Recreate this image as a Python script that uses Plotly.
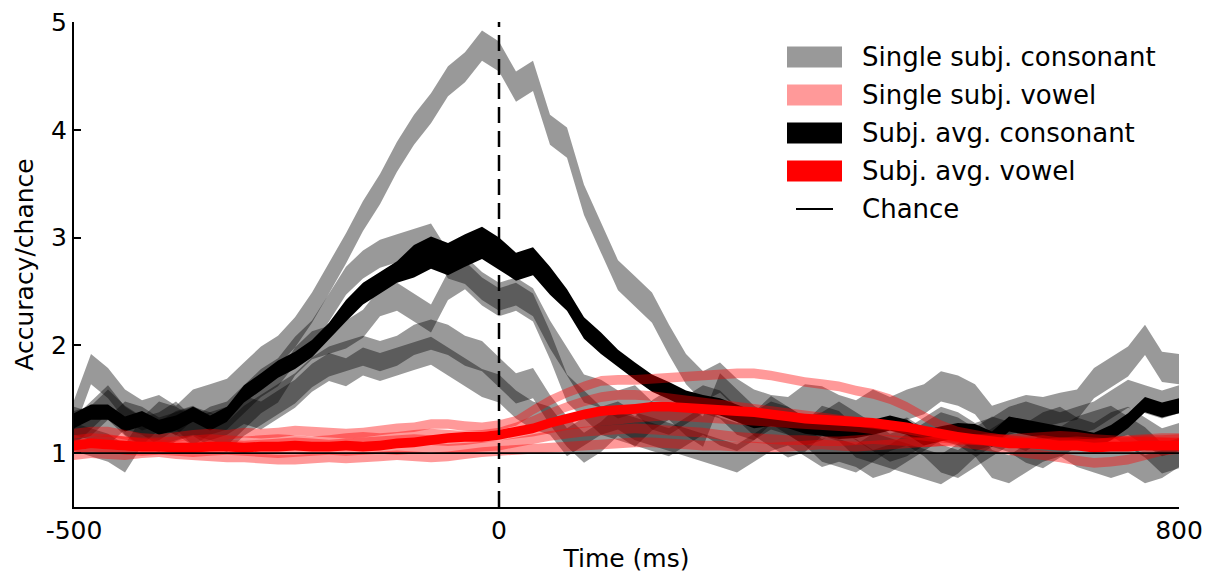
import plotly.graph_objects as go

# ---------------- data ----------------
time_ms = list(range(-500, 801, 20))

# single-subject consonant decoding (band centres)
cons_s1 = [1.35,1.78,1.65,1.45,1.35,1.4,1.3,1.45,1.5,1.55,1.7,1.85,1.95,2.12,2.35,2.62,2.9,3.2,3.45,3.75,
           4.0,4.2,4.45,4.58,4.78,4.68,4.4,4.5,4.0,3.88,3.35,3.0,2.65,2.5,2.35,2.05,1.78,1.62,1.7,1.55,
           1.45,1.4,1.38,1.5,1.48,1.4,1.35,1.45,1.38,1.45,1.5,1.62,1.58,1.5,1.3,1.35,1.4,1.38,1.42,1.45,
           1.65,1.75,1.85,2.05,1.8,1.78]
cons_s2 = [1.2,1.35,1.5,1.3,1.2,1.25,1.35,1.2,1.3,1.35,1.5,1.65,1.75,1.95,2.1,2.35,2.6,2.75,2.85,2.9,
           2.95,3.0,2.75,2.7,2.55,2.45,2.5,2.4,2.1,1.85,1.6,1.55,1.45,1.5,1.35,1.3,1.4,1.5,1.45,1.3,
           1.25,1.35,1.3,1.2,1.25,1.35,1.25,1.15,1.05,1.1,1.2,1.3,1.25,1.15,1.2,1.3,1.35,1.3,1.25,1.3,
           1.35,1.45,1.55,1.5,1.45,1.5]
cons_s3 = [1.3,1.25,1.2,1.35,1.3,1.2,1.25,1.3,1.25,1.2,1.35,1.5,1.6,1.85,2.0,2.05,2.1,2.2,2.4,2.45,
           2.35,2.25,2.55,2.65,2.5,2.4,2.45,2.35,2.0,1.6,1.45,1.3,1.25,1.2,1.15,1.1,1.2,1.3,1.2,1.15,
           1.25,1.4,1.3,1.2,1.05,1.0,0.95,1.05,1.15,1.2,1.1,0.95,0.9,1.0,1.1,1.2,1.15,1.25,1.3,1.2,
           1.15,1.25,1.3,1.2,1.1,1.15]
cons_s4 = [1.25,1.3,1.45,1.3,1.2,1.15,1.25,1.3,1.2,1.15,1.3,1.4,1.5,1.6,1.75,1.85,1.9,1.95,1.9,1.95,
           2.05,2.1,2.05,1.95,1.9,1.75,1.6,1.65,1.4,1.2,1.05,1.15,1.3,1.2,1.35,1.45,1.3,1.2,1.6,1.45,
           1.3,1.2,1.1,1.15,1.3,1.25,1.1,1.05,1.0,0.95,0.9,0.85,0.95,1.1,1.2,1.15,1.05,1.0,1.1,1.2,
           1.25,1.3,1.2,1.1,0.95,1.0]
cons_s5 = [1.15,1.1,1.05,0.95,1.2,1.35,1.3,1.2,1.25,1.3,1.4,1.35,1.45,1.55,1.7,1.8,1.75,1.85,1.8,1.85,
           1.9,1.95,1.85,1.75,1.65,1.6,1.45,1.35,1.3,1.1,1.2,1.3,1.35,1.25,1.2,1.15,1.1,1.05,1.0,0.95,
           1.05,1.15,1.2,1.1,1.0,1.05,1.0,0.9,0.95,1.05,1.15,1.25,1.2,1.1,0.9,0.85,0.95,1.05,1.1,1.0,
           0.95,0.9,0.95,0.85,0.9,1.0]
cons_single_sem = [0.14, 0.13, 0.13, 0.14, 0.13]

# single-subject vowel decoding (band centres)
vow_s1 = [1.18,1.2,1.2,1.17,1.14,1.13,1.15,1.17,1.18,1.17,1.19,1.18,1.19,1.21,1.20,1.19,1.18,1.19,1.21,1.23,
          1.24,1.27,1.27,1.25,1.24,1.26,1.30,1.40,1.49,1.56,1.62,1.67,1.68,1.68,1.69,1.70,1.71,1.72,1.73,1.74,
          1.74,1.72,1.69,1.66,1.64,1.62,1.58,1.55,1.50,1.43,1.34,1.26,1.20,1.17,1.14,1.12,1.11,1.12,1.10,1.09,
          1.08,1.10,1.12,1.13,1.14,1.14]
vow_s2 = [1.12,1.14,1.13,1.11,1.10,1.10,1.11,1.12,1.13,1.12,1.11,1.12,1.13,1.12,1.11,1.12,1.14,1.15,1.14,1.15,
          1.17,1.18,1.17,1.16,1.17,1.19,1.24,1.30,1.37,1.43,1.48,1.52,1.54,1.54,1.53,1.51,1.49,1.47,1.45,1.43,
          1.41,1.39,1.37,1.35,1.33,1.31,1.29,1.27,1.25,1.22,1.19,1.16,1.14,1.12,1.11,1.10,1.09,1.09,1.08,1.08,
          1.09,1.10,1.11,1.12,1.12,1.13]
vow_s3 = [1.04,1.06,1.05,1.03,1.02,1.03,1.02,1.01,1.02,1.03,1.02,1.01,1.00,1.01,1.02,1.03,1.02,1.03,1.04,1.03,
          1.04,1.05,1.04,1.05,1.06,1.07,1.10,1.13,1.16,1.18,1.20,1.21,1.22,1.23,1.22,1.21,1.20,1.19,1.17,1.15,
          1.14,1.13,1.12,1.12,1.11,1.11,1.12,1.13,1.12,1.11,1.10,1.11,1.12,1.13,1.14,1.12,1.10,1.09,1.10,1.11,
          1.10,1.09,1.10,1.11,1.10,1.10]
vow_s4 = [0.98,1.00,0.99,0.98,1.00,1.01,0.99,0.98,0.97,0.96,0.96,0.95,0.94,0.94,0.95,0.96,0.95,0.96,0.97,0.98,
          0.97,0.96,0.97,0.99,1.01,1.02,1.03,1.04,1.05,1.06,1.07,1.08,1.09,1.10,1.10,1.09,1.08,1.07,1.07,1.06,
          1.06,1.05,1.06,1.07,1.08,1.07,1.06,1.07,1.08,1.09,1.10,1.11,1.10,1.08,1.06,1.03,1.00,0.98,0.96,0.93,
          0.91,0.92,0.94,0.98,1.02,1.04]
vow_s5 = [1.08,1.10,1.12,1.11,1.09,1.08,1.07,1.08,1.09,1.08,1.07,1.08,1.09,1.10,1.09,1.08,1.09,1.10,1.11,1.12,
          1.13,1.12,1.11,1.12,1.14,1.16,1.18,1.20,1.23,1.26,1.28,1.30,1.31,1.33,1.34,1.35,1.34,1.33,1.32,1.31,
          1.30,1.29,1.28,1.27,1.26,1.25,1.24,1.22,1.20,1.18,1.16,1.14,1.13,1.12,1.12,1.13,1.14,1.15,1.16,1.15,
          1.13,1.12,1.11,1.10,1.10,1.09]
vow_single_sem = [0.045, 0.045, 0.045, 0.045, 0.045]

# subject-average curves
avg_cons = [1.30,1.38,1.38,1.27,1.32,1.24,1.28,1.36,1.28,1.36,1.55,1.66,1.78,1.86,1.97,2.13,2.32,2.48,2.58,2.68,
            2.78,2.86,2.80,2.88,2.95,2.85,2.73,2.78,2.60,2.42,2.16,2.02,1.88,1.76,1.65,1.58,1.50,1.46,1.43,1.37,
            1.31,1.32,1.30,1.25,1.23,1.20,1.21,1.24,1.28,1.24,1.14,1.18,1.21,1.20,1.13,1.27,1.24,1.21,1.18,1.15,
            1.12,1.19,1.30,1.45,1.40,1.44]
avg_cons_sem = [0.07,0.07,0.07,0.07,0.07,0.07,0.07,0.07,0.07,0.07,0.08,0.08,0.08,0.08,0.08,0.08,0.10,0.10,0.10,0.10,
                0.15,0.15,0.15,0.15,0.15,0.15,0.13,0.13,0.13,0.10,0.10,0.10,0.08,0.08,0.08,0.08,0.08,0.08,0.08,0.08,
                0.08,0.07,0.07,0.07,0.07,0.07,0.07,0.07,0.07,0.07,0.07,0.07,0.07,0.07,0.07,0.07,0.07,0.07,0.07,0.07,
                0.07,0.07,0.07,0.07,0.07,0.07]
avg_vow = [1.07,1.09,1.08,1.07,1.06,1.06,1.05,1.05,1.06,1.06,1.05,1.06,1.06,1.07,1.06,1.06,1.07,1.06,1.07,1.09,
           1.10,1.12,1.14,1.15,1.15,1.17,1.20,1.23,1.28,1.32,1.36,1.39,1.40,1.41,1.43,1.43,1.42,1.41,1.40,1.39,
           1.38,1.36,1.34,1.32,1.31,1.30,1.29,1.28,1.26,1.24,1.21,1.18,1.15,1.13,1.11,1.09,1.09,1.08,1.07,1.07,
           1.05,1.06,1.06,1.07,1.07,1.07]
avg_vow_sem = [0.045]

chance_level = 1.0
onset_ms = 0

x_ticks = [-500, 0, 800]
y_ticks = [1, 2, 3, 4, 5]
x_range = [-500, 800]
y_range = [0.5, 5]

legend_labels = ["Single subj. consonant", "Single subj. vowel",
                 "Subj. avg. consonant", "Subj. avg. vowel", "Chance"]

# ---------------- styling ----------------
FONT = "DejaVu Sans"
GRAY_A = "rgba(0,0,0,0.4)"
PINK_A = "rgba(255,0,0,0.4)"
BLACK = "#000000"
RED = "#ff0000"

fig = go.Figure()


def add_band(center, sem, color):
    if len(sem) == 1:
        sem = sem * len(center)
    upper = [c + s for c, s in zip(center, sem)]
    lower = [c - s for c, s in zip(center, sem)]
    fig.add_trace(go.Scatter(
        x=time_ms + time_ms[::-1],
        y=upper + lower[::-1],
        fill="toself", fillcolor=color,
        mode="lines", line=dict(width=0, color=color),
        hoverinfo="skip", showlegend=False))


for series, s in zip([cons_s1, cons_s2, cons_s3, cons_s4, cons_s5], cons_single_sem):
    add_band(series, [s], GRAY_A)
add_band(avg_cons, avg_cons_sem, BLACK)
for series, s in zip([vow_s1, vow_s2, vow_s3, vow_s4, vow_s5], vow_single_sem):
    add_band(series, [s], PINK_A)
add_band(avg_vow, avg_vow_sem, RED)

# chance line
fig.add_trace(go.Scatter(x=x_range, y=[chance_level, chance_level], mode="lines",
                         line=dict(color=BLACK, width=1.8), hoverinfo="skip", showlegend=False))
# stimulus onset
fig.add_trace(go.Scatter(x=[onset_ms, onset_ms], y=y_range, mode="lines",
                         line=dict(color=BLACK, width=2.5, dash="16px,8px"),
                         hoverinfo="skip", showlegend=False))

# ---------------- layout ----------------
L, R, T, B = 74, 1179, 22, 507
W_PX, H_PX = 1205, 573


def pxx(px):
    return (px - L) / (R - L)


def pxy(py):
    return (B - py) / (B - T)


shapes = []
annotations = []
row_y = [57, 95, 133, 171, 209]
patch_colors = [GRAY_A, PINK_A, BLACK, RED]
for yy, col in zip(row_y[:4], patch_colors):
    shapes.append(dict(type="rect", xref="paper", yref="paper",
                       x0=pxx(787), x1=pxx(842), y0=pxy(yy + 10.5), y1=pxy(yy - 10.5),
                       fillcolor=col, line=dict(width=0)))
shapes.append(dict(type="line", xref="paper", yref="paper",
                   x0=pxx(796), x1=pxx(833), y0=pxy(row_y[4]), y1=pxy(row_y[4]),
                   line=dict(color=BLACK, width=2)))
for yy, lab in zip(row_y, legend_labels):
    annotations.append(dict(xref="paper", yref="paper", x=pxx(860), y=pxy(yy),
                            xanchor="left", yanchor="middle", text=lab, showarrow=False,
                            font=dict(family=FONT, size=26, color=BLACK)))

fig.update_layout(
    width=W_PX, height=H_PX,
    margin=dict(l=L, r=W_PX - R, t=T, b=H_PX - B, autoexpand=False),
    paper_bgcolor="white", plot_bgcolor="white",
    font=dict(family=FONT, size=25, color=BLACK),
    showlegend=False,
    shapes=shapes, annotations=annotations,
    xaxis=dict(range=x_range, tickvals=x_ticks, ticktext=[str(v) for v in x_ticks],
               automargin=False,
               showline=True, linecolor=BLACK, linewidth=2, mirror=False,
               ticks="inside", ticklen=7, tickwidth=1.5, tickcolor=BLACK,
               showgrid=False, zeroline=False,
               title=dict(text="Time (ms)", standoff=10, font=dict(size=25))),
    yaxis=dict(range=y_range, tickvals=y_ticks,
               automargin=False,
               showline=True, linecolor=BLACK, linewidth=2, mirror=False,
               ticks="inside", ticklen=7, tickwidth=1.5, tickcolor=BLACK,
               showgrid=False, zeroline=False,
               title=dict(text="Accuracy/chance", standoff=10, font=dict(size=25))),
)

fig.write_html("out.html")
